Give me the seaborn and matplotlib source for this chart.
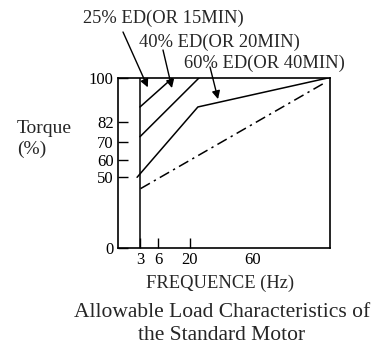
import numpy as np
import pandas as pd
import seaborn as sns
import matplotlib.pyplot as plt

sns.set_theme(style="white")
plt.rcParams['font.family'] = ['Liberation Serif', 'DejaVu Serif']

# curves (frequency in Hz, torque in %)
freq_25 = [3, 12.6]
torque_25 = [88, 100]
freq_40 = [3, 26]
torque_40 = [73, 100]
freq_60 = [2.6, 25, 110]
torque_60 = [50, 88, 100]
freq_cont = [3.1, 107]
torque_cont = [42, 98]
freq_min = [3, 3]
torque_min = [0, 100]

x_ticks = [3, 6, 20, 60]
y_ticks = [0, 50, 60, 70, 82, 100]
labels = ["25% ED(OR 15MIN)", "40% ED(OR 20MIN)", "60% ED(OR 40MIN)"]

# schematic (non-linear) axes of the original sketch
x_knots = [0, 3, 6, 20, 60, 110]
x_pos = [0, 22, 40, 72, 135, 212]
y_knots = [0, 50, 60, 70, 82, 100]
y_pos = [0, 70.7, 88, 106.3, 126.3, 170.5]

def fx(v): return np.interp(v, x_knots, x_pos)
def ix(v): return np.interp(v, x_pos, x_knots)
def fy(v): return np.interp(v, y_knots, y_pos)
def iy(v): return np.interp(v, y_pos, y_knots)

W, H = 379, 345
fig = plt.figure(figsize=(W / 100, H / 100), dpi=100)
ax = fig.add_axes([118 / W, 97 / H, 212 / W, 170.5 / H])
ax.set_xscale('function', functions=(fx, ix))
ax.set_yscale('function', functions=(fy, iy))

kw = dict(color='black', linewidth=1.1, ax=ax, legend=False, sort=False,
          estimator=None)
sns.lineplot(x=freq_min, y=torque_min, **kw)
sns.lineplot(x=freq_25, y=torque_25, **kw)
sns.lineplot(x=freq_40, y=torque_40, **kw)
sns.lineplot(x=freq_60, y=torque_60, **kw)
cont = sns.lineplot(x=freq_cont, y=torque_cont, **kw)
cont.lines[-1].set_linestyle((0, (7, 3, 1.5, 3)))

ax.set_xlim(0, 110)
ax.set_ylim(0, 100)
ax.set_xticks(x_ticks)
ax.set_xticklabels([str(t) for t in x_ticks])
ax.set_yticks(y_ticks)
ax.set_yticklabels([str(t) for t in y_ticks])
ax.xaxis.set_minor_locator(plt.NullLocator())
ax.yaxis.set_minor_locator(plt.NullLocator())
ax.tick_params(direction='in', length=7, width=1.0, colors='black',
               labelsize=12, pad=3, bottom=True, left=True)
ax.xaxis.get_major_ticks()[3].tick1line.set_visible(False)
for s in ax.spines.values():
    s.set_color('black')
    s.set_linewidth(1.2)
ax.set_xlabel("")
ax.set_ylabel("")

fig.text(17 / W, 1 - 139 / H, "Torque\n(%)", fontsize=14, ha='left', va='center',
         linespacing=1.3)
fig.text(220 / W, 1 - 283 / H, "FREQUENCE (Hz)", fontsize=13.3, ha='center', va='center')
fig.text(222 / W, 1 - 324 / H, "Allowable Load Characteristics of\nthe Standard Motor",
         fontsize=15.5, ha='center', va='center', linespacing=1.35)

# duty labels with arrows
label_pos = [(83, 18), (139, 42), (184, 63)]
arrow_from = [(123, 32), (163, 50), (210, 67)]
arrow_to = [(4.3, 96), (12.1, 95.7), (37.8, 91.2)]
for lab, (tx, ty), (sx, sy), tip in zip(labels, label_pos, arrow_from, arrow_to):
    fig.text(tx / W, 1 - ty / H, lab, fontsize=13.3, ha='left', va='center')
    ax.annotate("", xy=tip, xycoords='data', xytext=(sx / W, 1 - sy / H),
                textcoords='figure fraction',
                arrowprops=dict(arrowstyle='-|>', color='black', lw=1.0,
                                mutation_scale=12, shrinkA=0, shrinkB=0))

fig.savefig("out.png", dpi=100, facecolor='white')
